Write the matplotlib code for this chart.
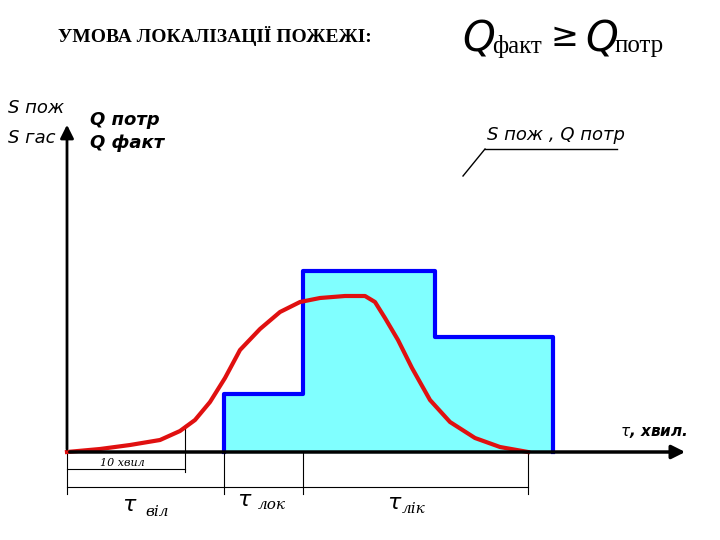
import numpy as np
import matplotlib.pyplot as plt

# --- дані (у координатах рисунка, пікселі) ---
curve_x = [67, 100, 130, 160, 180, 195, 210, 225, 240, 260, 280, 300, 320, 345, 365, 375, 385, 398, 412, 430, 450, 475, 500, 528]
curve_y = [452, 449, 445, 440, 431, 420, 402, 378, 350, 329, 312, 302, 298, 296, 296, 302, 318, 340, 368, 400, 422, 438, 447, 452]
step_x = [224, 224, 303, 303, 435, 435, 553, 553]
step_y = [452, 394, 394, 271, 271, 337, 337, 452]
axis_y0 = 452

fig = plt.figure(figsize=(7.2, 5.4), dpi=100)
ax = fig.add_axes([0, 0, 1, 1])
ax.set_xlim(0, 720)
ax.set_ylim(540, 0)
ax.axis('off')

# заливка та ступінчаста лінія
ax.fill(step_x, step_y, color='#80ffff', zorder=1)
ax.plot(step_x, step_y, color='#0000ff', lw=3, zorder=2)
ax.plot(curve_x, curve_y, color='#e01010', lw=3, zorder=3)

# осі
ax.annotate('', xy=(688, axis_y0), xytext=(67, axis_y0),
            arrowprops=dict(arrowstyle='-|>', color='k', lw=2.5, mutation_scale=20), zorder=4)
ax.annotate('', xy=(67, 122), xytext=(67, axis_y0),
            arrowprops=dict(arrowstyle='-|>', color='k', lw=2, mutation_scale=20), zorder=4)

# розмірні лінії
thin = dict(color='k', lw=0.8)
for x, y1, y2 in [(67, 452, 494), (185, 425, 472), (224, 452, 494), (303, 452, 494), (528, 452, 494)]:
    ax.plot([x, x], [y1, y2], **thin)
ax.plot([67, 185], [469, 469], **thin)
ax.plot([67, 528], [487, 487], **thin)
ax.text(122, 463, '10 хвил', fontsize=8, family='DejaVu Serif', style='italic', ha='center', va='center')

# підписи
ax.text(130, 505, r'$\tau$', fontsize=16, ha='center', va='center', weight='bold')
ax.text(145, 512, 'віл', fontsize=11, style='italic', family='DejaVu Serif', va='center')
ax.text(245, 500, r'$\tau$', fontsize=16, ha='center', va='center')
ax.text(258, 505, 'лок', fontsize=11, style='italic', family='DejaVu Serif', va='center')
ax.text(395, 503, r'$\tau$', fontsize=16, ha='center', va='center')
ax.text(402, 509, 'лік', fontsize=11, style='italic', family='DejaVu Serif', va='center')
ax.text(620, 433, r'$\tau$' + ', хвил.', fontsize=11, style='italic', weight='bold', va='center')

ax.text(8, 108, 'S пож', fontsize=13, style='italic', va='center')
ax.text(8, 138, 'S гас', fontsize=13, style='italic', va='center')
ax.text(90, 120, 'Q потр', fontsize=13, style='italic', weight='bold', va='center')
ax.text(90, 143, 'Q факт', fontsize=13, style='italic', weight='bold', va='center')

ax.text(487, 135, 'S пож , Q потр', fontsize=13, style='italic', va='center')
ax.plot([485, 617], [149, 149], color='k', lw=1)
ax.plot([485, 463], [149, 176], color='k', lw=1)

# заголовок
ax.text(58, 36, 'УМОВА ЛОКАЛІЗАЦІЇ ПОЖЕЖІ:', fontsize=14, family='Liberation Serif',
        weight='bold', va='center')
ax.text(462, 38, r'$Q$', fontsize=30, va='center', family='DejaVu Sans')
ax.text(492, 46, 'факт', fontsize=18, family='Liberation Serif', va='center')
ax.text(550, 36, '≥', fontsize=24, va='center')
ax.text(585, 38, r'$Q$', fontsize=30, va='center')
ax.text(615, 46, 'потр', fontsize=18, family='Liberation Serif', va='center')

fig.savefig('out.png', dpi=100)
